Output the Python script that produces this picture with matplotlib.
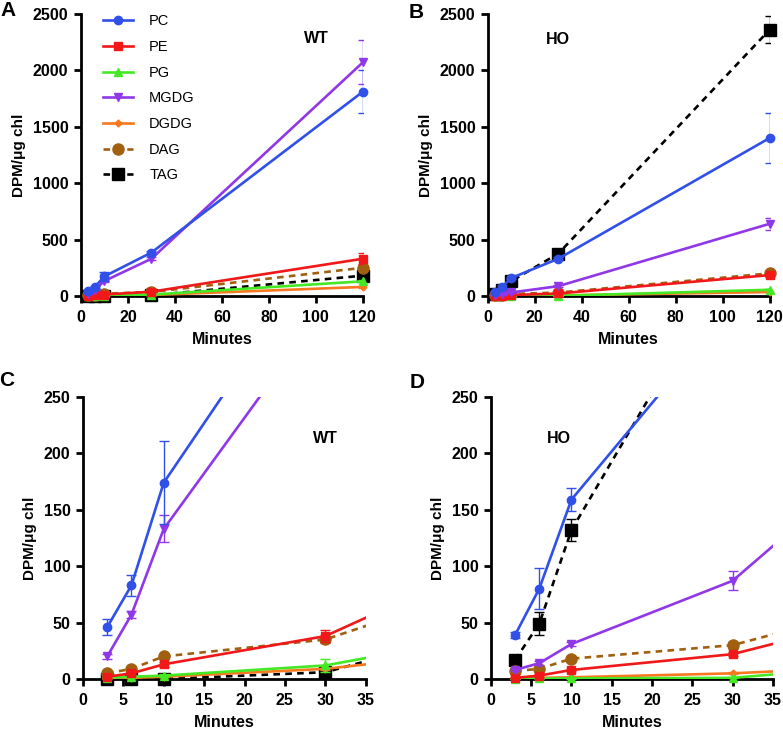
import numpy as np
import matplotlib
matplotlib.use('Agg')
import matplotlib.pyplot as plt
from matplotlib.lines import Line2D

plt.rcParams['font.family'] = ['Liberation Sans', 'DejaVu Sans']

# time points (minutes)
minutes = np.array([3, 6, 10, 30, 120])
lipids = ['PC', 'PE', 'PG', 'MGDG', 'DGDG', 'DAG', 'TAG']

# WT values (DPM/ug chl)
wt_vals = {
    'PC':   [46, 83, 174, 385, 1810],
    'PE':   [2, 5, 13, 38, 330],
    'PG':   [1, 2, 3, 12, 130],
    'MGDG': [20, 57, 133, 330, 2070],
    'DGDG': [0.5, 1, 2, 9, 80],
    'DAG':  [5, 9, 20, 35, 250],
    'TAG':  [0, 0, 0, 6, 180],
}
wt_err = {
    'PC':   [7, 9.5, 37, 12, 193],
    'PE':   [1, 1, 2, 5, 50],
    'PG':   [0.5, 0.5, 1, 6, 10],
    'MGDG': [2, 3, 12, 15, 195],
    'DGDG': [0.2, 0.2, 0.5, 1, 8],
    'DAG':  [1, 1, 2, 3, 20],
    'TAG':  [0, 0, 0, 1, 15],
}

# HO values
ho_vals = {
    'PC':   [39, 80, 159, 330, 1400],
    'PE':   [1, 3, 8, 22, 185],
    'PG':   [0, 0.5, 0.5, 1, 55],
    'MGDG': [8, 14, 31, 87, 640],
    'DGDG': [0.5, 1, 1.5, 5, 35],
    'DAG':  [7, 9, 18, 30, 200],
    'TAG':  [17, 49, 132, 375, 2360],
}
ho_err = {
    'PC':   [3, 18, 10, 15, 220],
    'PE':   [0.5, 1, 1, 2, 15],
    'PG':   [0, 0.2, 0.2, 0.5, 5],
    'MGDG': [1, 2, 2, 8.5, 55],
    'DGDG': [0.2, 0.2, 0.3, 1, 3],
    'DAG':  [1, 1, 2, 3, 15],
    'TAG':  [2, 10, 10, 12, 120],
}

styles = {
    'PC':   dict(color='#3050e8', marker='o', ms=6, ls='-'),
    'PE':   dict(color='#f01818', marker='s', ms=6, ls='-'),
    'PG':   dict(color='#44e824', marker='^', ms=6, ls='-'),
    'MGDG': dict(color='#9038e8', marker='v', ms=6, ls='-'),
    'DGDG': dict(color='#f87820', marker='D', ms=3.5, ls='-'),
    'DAG':  dict(color='#a06010', marker='o', ms=8, ls=(0, (2.5, 2))),
    'TAG':  dict(color='#000000', marker='s', ms=8, ls=(0, (2.5, 2))),
}
draw_order = ['TAG', 'DAG', 'DGDG', 'PG', 'PE', 'MGDG', 'PC']


def panel(ax, vals, errs, xmax, ymax, xticks, yticks):
    for z, name in enumerate(draw_order):
        st = styles[name]
        y = np.array(vals[name], dtype=float)
        e = np.array(errs[name], dtype=float)
        ax.plot(minutes, y, color=st['color'], ls=st['ls'], lw=1.9, zorder=2 + z)
        m = y <= ymax
        ax.errorbar(minutes[m], y[m], yerr=e[m], fmt='none', ecolor=st['color'],
                    elinewidth=1.0, capsize=3.5, capthick=1.0, zorder=2 + z)
        ax.plot(minutes[m], y[m], ls='none', marker=st['marker'], ms=st['ms'],
                color=st['color'], clip_on=False, zorder=2 + z)
    ax.set_xlim(0, xmax)
    ax.set_ylim(0, ymax)
    ax.set_xticks(xticks)
    ax.set_yticks(yticks)
    for s in ['top', 'right']:
        ax.spines[s].set_visible(False)
    for s in ['left', 'bottom']:
        ax.spines[s].set_linewidth(2)
    ax.tick_params(width=2, length=5, labelsize=11.5)
    ax.tick_params(axis='x', pad=5)
    ax.tick_params(axis='y', pad=4)
    for lab in ax.get_xticklabels() + ax.get_yticklabels():
        lab.set_fontweight('bold')
    ax.set_xlabel('Minutes', fontsize=11.5, fontweight='bold', labelpad=5)
    ax.set_ylabel('DPM/\u03bcg chl', fontsize=11, fontweight='bold', labelpad=5)


fig = plt.figure(figsize=(7.83, 7.29), dpi=100)
axA = fig.add_axes([0.1034, 0.594, 0.360, 0.387])
axB = fig.add_axes([0.623, 0.594, 0.360, 0.387])
axC = fig.add_axes([0.106, 0.0686, 0.361, 0.387])
axD = fig.add_axes([0.627, 0.0686, 0.360, 0.387])

big_x = [0, 20, 40, 60, 80, 100, 120]
big_y = [0, 500, 1000, 1500, 2000, 2500]
small_x = [0, 5, 10, 15, 20, 25, 30, 35]
small_y = [0, 50, 100, 150, 200, 250]

panel(axA, wt_vals, wt_err, 120, 2500, big_x, big_y)
panel(axB, ho_vals, ho_err, 120, 2500, big_x, big_y)
panel(axC, wt_vals, wt_err, 35, 250, small_x, small_y)
panel(axD, ho_vals, ho_err, 35, 250, small_x, small_y)

axA.text(100, 2280, 'WT', fontsize=11.5, fontweight='bold', ha='center', va='center')
axB.text(30, 2270, 'HO', fontsize=11.5, fontweight='bold', ha='center', va='center')
axC.text(30, 213, 'WT', fontsize=11.5, fontweight='bold', ha='center', va='center')
axD.text(8.4, 213, 'HO', fontsize=11.5, fontweight='bold', ha='center', va='center')

# legend
handles = []
for name in lipids:
    st = styles[name]
    handles.append(Line2D([0], [0], color=st['color'], ls=st['ls'], lw=1.9,
                          marker=st['marker'], ms=st['ms']))
axA.legend(handles, lipids, loc='upper left', bbox_to_anchor=(0.03, 1.045),
           frameon=False, fontsize=10.5, handlelength=2.1, handletextpad=1.1,
           labelspacing=0.8)

# panel letters
for letter, (px, py) in zip('ABCD', [(8, 10), (416, 12), (7, 380), (417, 382)]):
    fig.text(px / 783, 1 - py / 729, letter, fontsize=15, fontweight='bold',
             ha='center', va='center')

fig.savefig('out.png', dpi=100)
